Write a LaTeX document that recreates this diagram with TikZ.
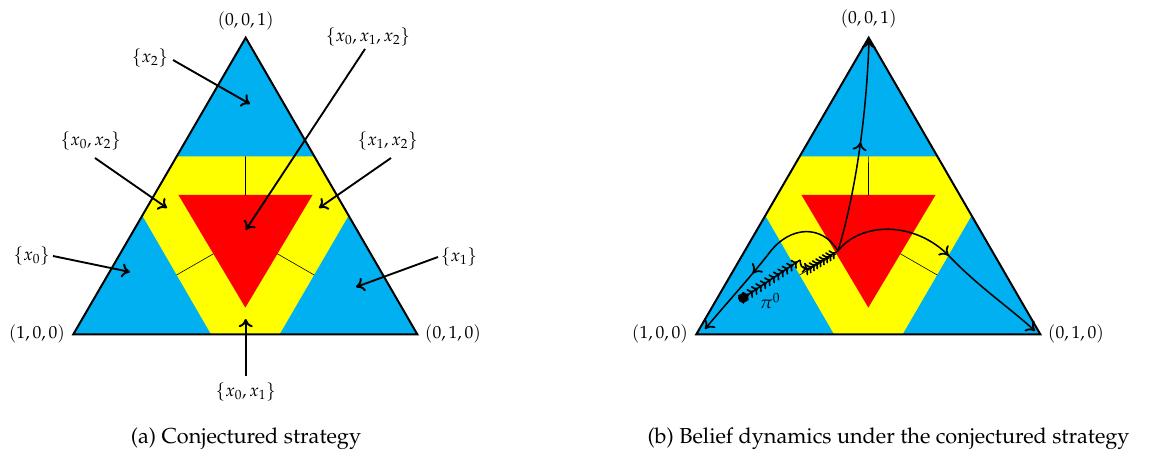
\documentclass[tikz,border=0pt]{standalone}
\usepackage[T1]{fontenc}
\usepackage{mathpazo}
\usetikzlibrary{arrows.meta,decorations.markings}
\definecolor{simblue}{RGB}{0,176,240}
\definecolor{simyellow}{RGB}{255,255,0}
\definecolor{simred}{RGB}{255,0,0}
\newcommand{\drawsimplex}[1]{%
  \coordinate (#1ab) at (barycentric cs:#1A=0.6,#1B=0.4,#1C=0);
  \coordinate (#1ac) at (barycentric cs:#1A=0.6,#1B=0,#1C=0.4);
  \coordinate (#1ba) at (barycentric cs:#1A=0.4,#1B=0.6,#1C=0);
  \coordinate (#1bc) at (barycentric cs:#1A=0,#1B=0.6,#1C=0.4);
  \coordinate (#1ca) at (barycentric cs:#1A=0.4,#1B=0,#1C=0.6);
  \coordinate (#1cb) at (barycentric cs:#1A=0,#1B=0.4,#1C=0.6);
  \coordinate (#1r1) at (barycentric cs:#1A=0.46,#1B=0.07,#1C=0.47);
  \coordinate (#1r2) at (barycentric cs:#1A=0.07,#1B=0.46,#1C=0.47);
  \coordinate (#1r3) at (barycentric cs:#1A=0.455,#1B=0.455,#1C=0.09);
  \coordinate (#1m1) at (barycentric cs:#1A=0.265,#1B=0.265,#1C=0.47);
  \coordinate (#1n1) at (barycentric cs:#1A=0.2,#1B=0.2,#1C=0.6);
  \coordinate (#1m2) at (barycentric cs:#1A=0.457,#1B=0.2715,#1C=0.2715);
  \coordinate (#1n2) at (barycentric cs:#1A=0.6,#1B=0.2,#1C=0.2);
  \coordinate (#1m3) at (barycentric cs:#1A=0.2715,#1B=0.457,#1C=0.2715);
  \coordinate (#1n3) at (barycentric cs:#1A=0.2,#1B=0.6,#1C=0.2);
  \fill[simyellow] (#1A) -- (#1B) -- (#1C) -- cycle;
  \fill[simblue] (#1A) -- (#1ab) -- (#1ac) -- cycle;
  \fill[simblue] (#1B) -- (#1ba) -- (#1bc) -- cycle;
  \fill[simblue] (#1C) -- (#1ca) -- (#1cb) -- cycle;
  \fill[simred] (#1r1) -- (#1r2) -- (#1r3) -- cycle;
  \draw[thinsep] (#1m1) -- (#1n1);
  \draw[thinsep] (#1m2) -- (#1n2);
  \draw[thinsep] (#1m3) -- (#1n3);
  \draw[line width=1.7pt, line join=miter] (#1A) -- (#1B) -- (#1C) -- cycle;
}
\begin{document}
\begin{tikzpicture}[x=0.03cm, y=-0.03cm,
  lab/.style={inner sep=0pt, font=\fontsize{15}{18}\selectfont},
  captext/.style={inner sep=0pt, font=\fontsize{18.5}{22}\selectfont},
  thinsep/.style={line width=0.5pt, black},
  arr/.style={line width=1.6pt, -{To[length=7pt,width=12pt,line width=1.7pt]}},
  curv/.style={line width=1.3pt, -{To[length=7pt,width=12pt,line width=1.5pt]}},
  midarr/.style={postaction={decorate}, decoration={markings, mark=at position #1 with {\arrow{To[length=7pt,width=12pt,line width=1.5pt]}}}},
  chain/.style={line width=1.3pt, postaction={decorate},
    decoration={markings, mark=between positions 0.03 and 1 step #1 with {\arrow{To[length=4.5pt,width=9pt,line width=1.4pt]}}}}
]
\useasboundingbox (0,0) rectangle (1149,461);
% vertices
\coordinate (LA) at (73.3,334.3);
\coordinate (LB) at (417.3,334.3);
\coordinate (LC) at (245.7,37.7);
\coordinate (RA) at (696.3,334.3);
\coordinate (RB) at (1040.3,334.3);
\coordinate (RC) at (868.7,37.7);
\drawsimplex{L}
\drawsimplex{R}
% vertex labels
\node[lab] (lC) at (245.7,20.5) {$(0,0,1)$};
\node[lab] (lA) at (37,334) {$(1,0,0)$};
\node[lab] (lB) at (453,334) {$(0,1,0)$};
\node[lab] (rC) at (868.7,18.5) {$(0,0,1)$};
\node[lab] (rA) at (660,334) {$(1,0,0)$};
\node[lab] (rB) at (1076,334) {$(0,1,0)$};
% region labels (a)
\node[lab] (x2) at (150,58) {$\{x_2\}$};
\coordinate (x2s) at (173,60); \coordinate (x2e) at (250,104);
\draw[arr] (x2s) -- (x2e);
\node[lab] (x012) at (368,37) {$\{x_0,x_1,x_2\}$};
\coordinate (x012s) at (365,49); \coordinate (x012e) at (245.7,230);
\draw[arr] (x012s) -- (x012e);
\node[lab] (x02) at (90.7,141) {$\{x_0,x_2\}$};
\coordinate (x02s) at (95,158); \coordinate (x02e) at (167,208);
\draw[arr] (x02s) -- (x02e);
\node[lab] (x12) at (387.7,141) {$\{x_1,x_2\}$};
\coordinate (x12s) at (391,158); \coordinate (x12e) at (319,208);
\draw[arr] (x12s) -- (x12e);
\node[lab] (x0) at (31.7,256) {$\{x_0\}$};
\coordinate (x0s) at (53,256); \coordinate (x0e) at (130,272);
\draw[arr] (x0s) -- (x0e);
\node[lab] (x1) at (459,257) {$\{x_1\}$};
\coordinate (x1s) at (438,257); \coordinate (x1e) at (356,287);
\draw[arr] (x1s) -- (x1e);
\node[lab] (x01) at (245.7,392) {$\{x_0,x_1\}$};
\coordinate (x01s) at (245.7,376); \coordinate (x01e) at (245.7,319);
\draw[arr] (x01s) -- (x01e);
% belief dynamics (b)
\node[circle, fill=black, inner sep=0pt, minimum size=8.5pt] (D) at (743,298) {};
\node[lab] (pi) at (770,301) {$\pi^0$};
\coordinate (T1) at (800,260);
\coordinate (T2) at (808,269);
\coordinate (P) at (838,251);
\coordinate (eC) at (869,40);
\coordinate (eA) at (705,329);
\coordinate (eB) at (1035,331);
\draw[chain=4.5pt] (D.center) -- (T1);
\draw[line width=1.3pt, -{To[length=4.5pt,width=9pt,line width=1.4pt]}] (T1) .. controls (801,267) .. (T2);
\draw[chain=3.3pt] (T2) -- (P);
\draw[curv, midarr=0.52] (P) .. controls (852,205) and (866,130) .. (eC);
\draw[curv, midarr=0.6] (P) .. controls (822,224) and (790,226) .. (770,252)
   .. controls (754,273) and (725,305) .. (eA);
\draw[curv, midarr=0.52] (P) .. controls (860,222) and (915,220) .. (950,257)
   .. controls (980,288) and (1010,308) .. (eB);
% captions
\node[captext] (capa) at (246,439) {(a) Conjectured strategy};
\node[captext] (capb) at (888.5,439) {(b) Belief dynamics under the conjectured strategy};
\end{tikzpicture}
\end{document}
